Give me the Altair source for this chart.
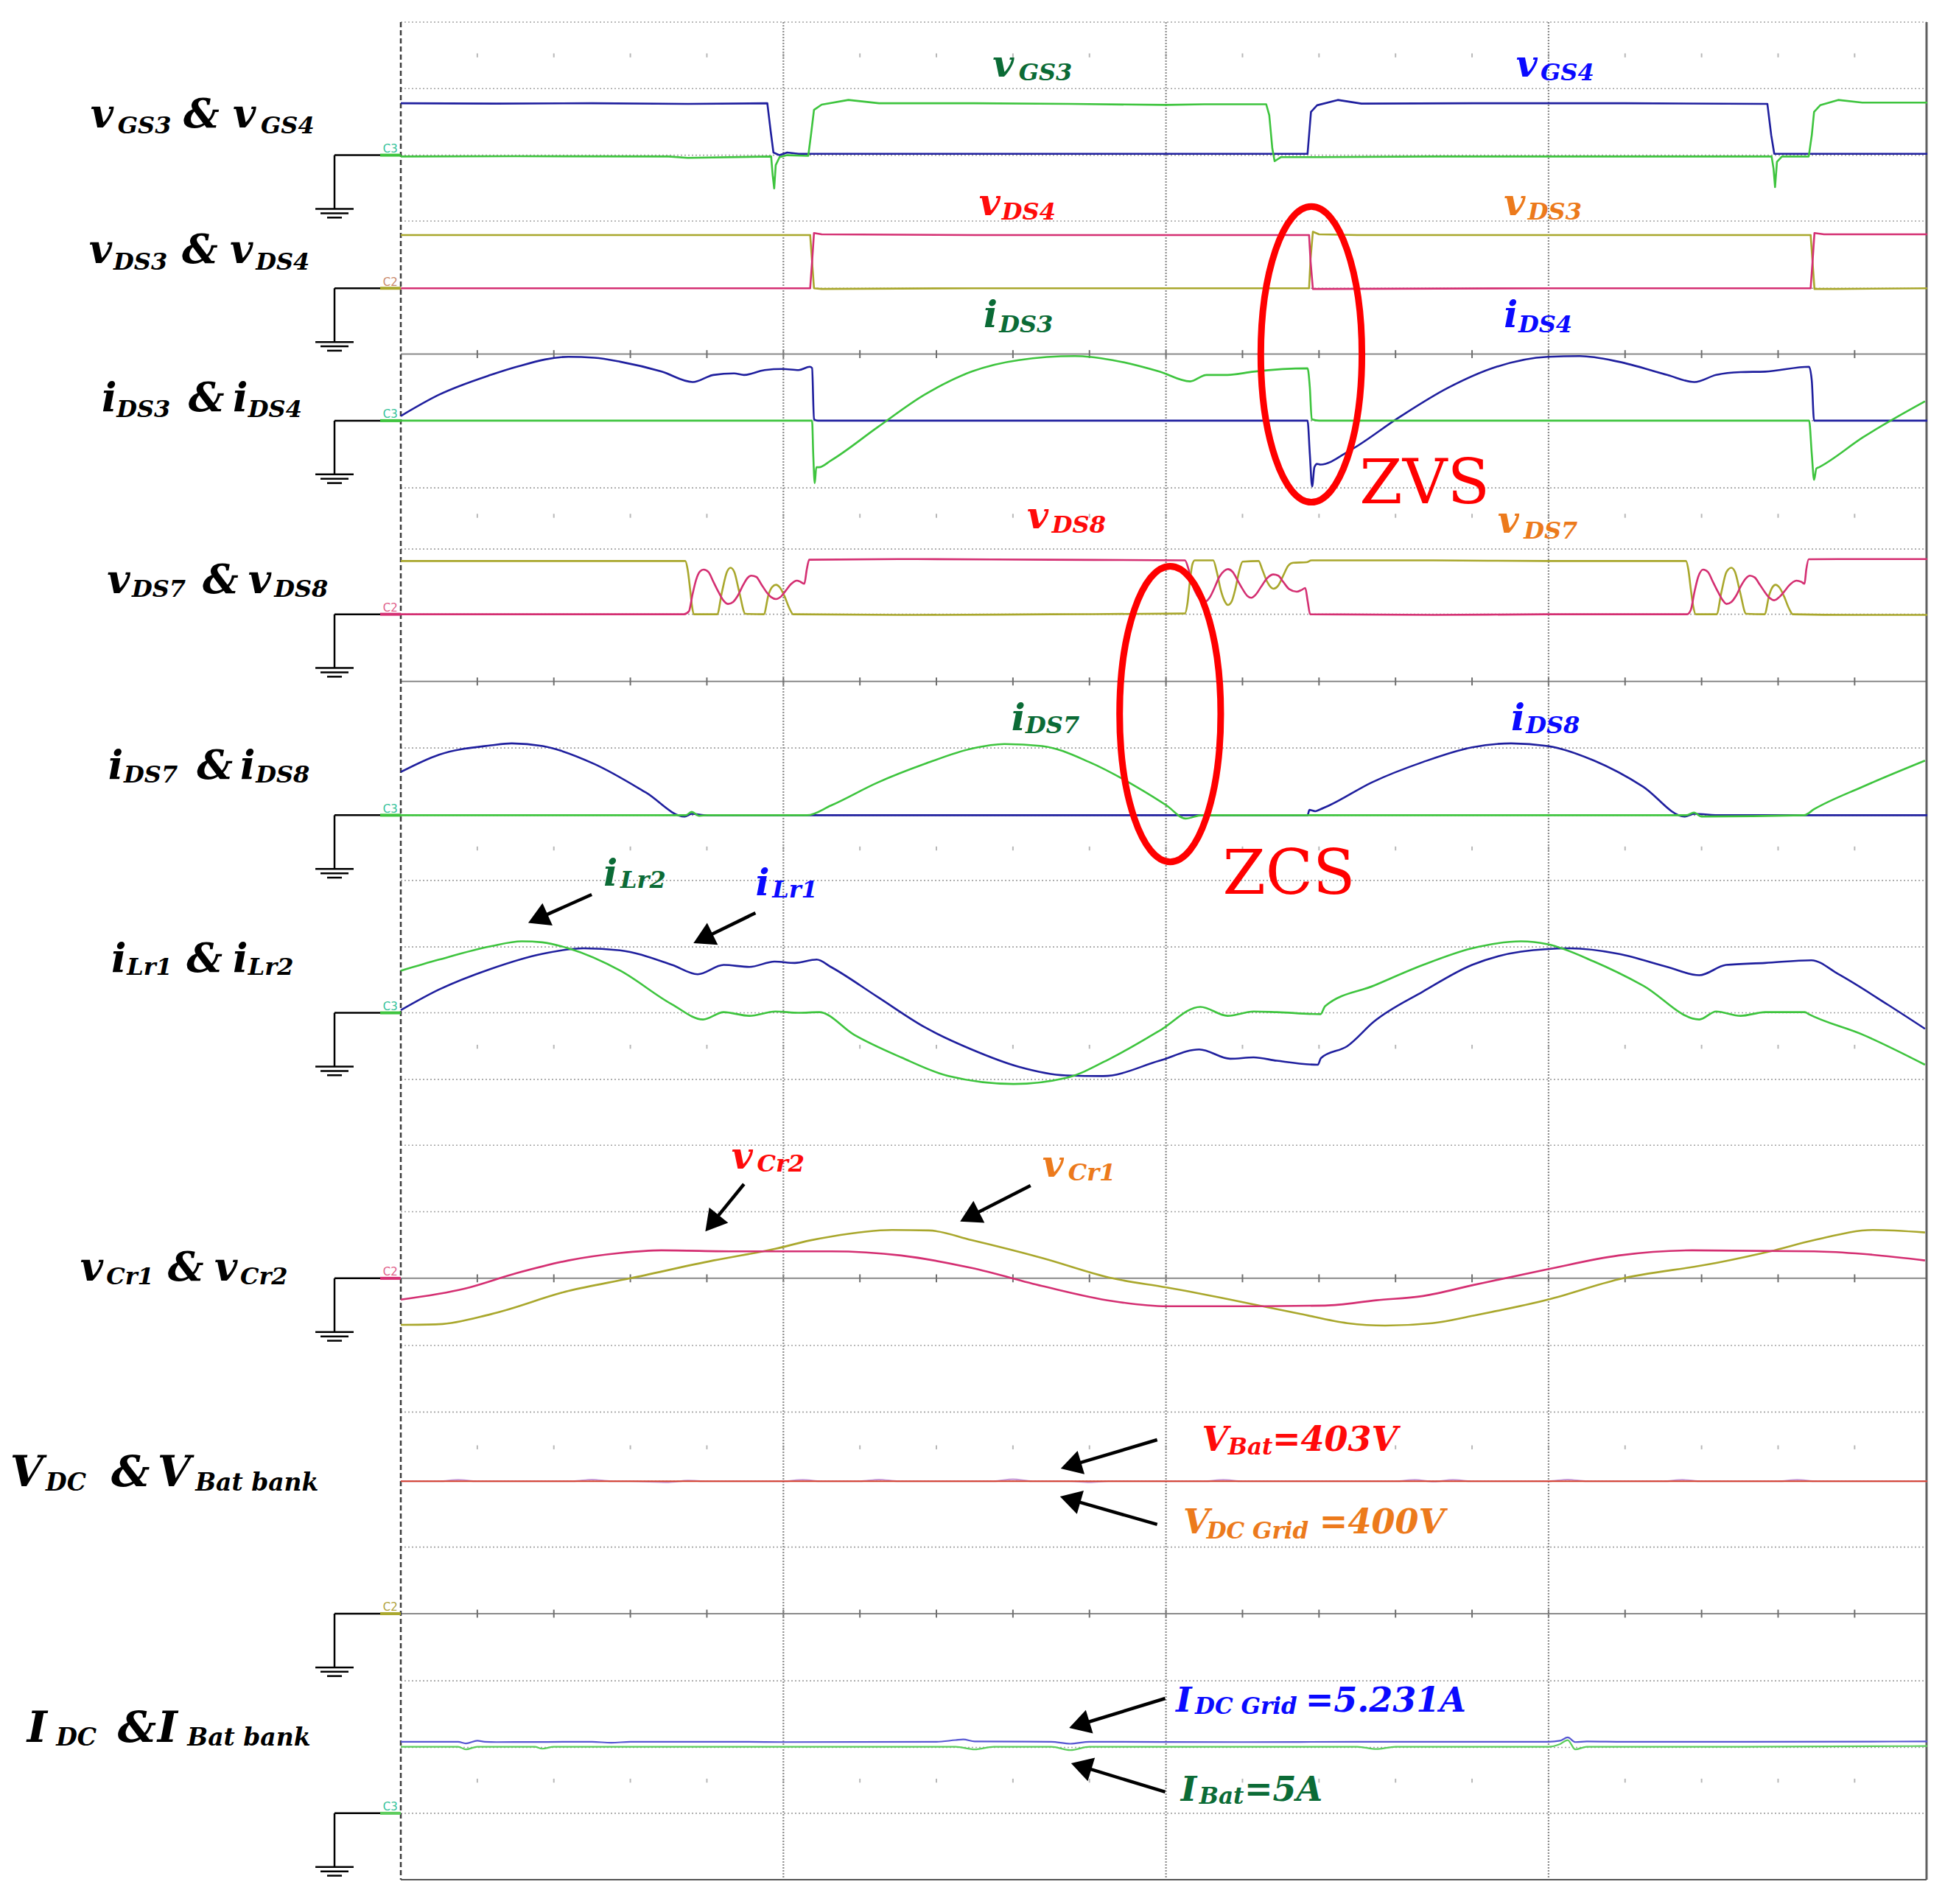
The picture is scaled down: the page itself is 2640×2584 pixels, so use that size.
import math
import altair as alt
import pandas as pd

# ---------------- screen frame, in oscilloscope divisions ----------------
T_RANGE = [-1.0322, 4.0131]     # horizontal divisions (channel names sit at negative t)
D_RANGE = [-0.2436, 28.173]     # vertical divisions, counted downward from the top graticule line
T_END = 3.988
D_BOTTOM = 27.918
W, H = 2620, 2566

GRID_DOTTED = [0.0, 1.0, 2.0, 2.99, 4.0, 5.99, 7.0, 7.92, 8.9, 10.91, 11.92, 12.9, 13.9, 14.89,
               15.89, 16.88, 17.88, 19.89, 20.89, 21.93, 22.92, 24.93, 25.93, 26.92]
GRID_SOLID = [4.99, 9.91, 18.88, 23.92]
GRID_MARK_ROWS = [0.5, 7.42, 12.42, 15.40, 21.42, 26.43]
GRID_VERTICAL = [1.0, 2.0, 3.0]

CHANNEL_GROUNDS = [2.0, 4.0, 5.99, 8.9, 11.92, 14.89, 18.88, 23.92, 26.92]
CHANNEL_TAGS = ["C3", "C2", "C3", "C2", "C3", "C3", "C2", "C2", "C3"]
CHANNEL_TAG_KEYS = ["tag_g", "tag_s", "tag_g", "tag_p", "tag_g", "tag_g", "tag_p", "tag_o", "tag_g"]
CHANNEL_STUB_KEYS = ["vGS3", "vDS3", "iDS3", "vDS8", "iDS7", "iLr2", "vCr2", "vCr1", "IBat"]

# ---------------- traces: time (div) and level above channel ground (div) ----------------
VGS4_T = [0, 0.25, 0.5, 0.75, 0.958, 0.967, 0.974, 0.99, 1.01, 1.04, 1.5, 2.0, 2.3, 2.37, 2.379, 2.395,
          2.449, 2.511, 2.8, 3.2, 3.572, 3.582, 3.59, 3.99]
VGS4_V = [0.78, 0.775, 0.78, 0.77, 0.78, 0.35, 0.04, 0.0, 0.04, 0.02, 0.02, 0.02, 0.02, 0.02, 0.65, 0.75,
          0.83, 0.775, 0.78, 0.78, 0.77, 0.3, 0.02, 0.02]
VGS3_T = [0, 0.3, 0.7, 0.75, 0.968, 0.972, 0.976, 0.98, 0.99, 1.01, 1.065, 1.072, 1.08, 1.10, 1.17, 1.25,
          1.5, 1.75, 2.0, 2.1, 2.262, 2.27, 2.278, 2.284, 2.30, 2.4, 2.7, 3.0, 3.3, 3.583, 3.588, 3.592,
          3.597, 3.61, 3.68, 3.688, 3.694, 3.71, 3.757, 3.82, 3.99]
VGS3_V = [-0.02, -0.015, -0.02, -0.04, -0.02, -0.3, -0.5, -0.15, -0.03, 0.0, -0.01, 0.3, 0.68, 0.76, 0.83,
          0.78, 0.78, 0.77, 0.755, 0.765, 0.765, 0.6, 0.1, -0.09, -0.03, -0.03, -0.02, -0.02, -0.02, -0.02,
          -0.2, -0.48, -0.1, -0.02, -0.02, 0.3, 0.65, 0.75, 0.83, 0.79, 0.79]

VDS3_T = [0, 0.5, 1.07, 1.075, 1.08, 1.1, 1.5, 2.0, 2.374, 2.378, 2.384, 2.4, 2.5, 3.0, 3.685, 3.69, 3.695, 3.75, 3.99]
VDS3_V = [0.80, 0.80, 0.80, 0.4, 0.0, -0.01, 0.0, 0.0, 0.0, 0.45, 0.85, 0.81, 0.80, 0.80, 0.80, 0.4, -0.01, -0.01, 0.0]
VDS4_T = [0, 0.5, 1.07, 1.075, 1.08, 1.1, 1.5, 2.0, 2.374, 2.378, 2.384, 2.4, 3.0, 3.685, 3.69, 3.695, 3.72, 3.99]
VDS4_V = [0.0, 0.0, 0.0, 0.4, 0.83, 0.81, 0.80, 0.80, 0.80, 0.4, -0.01, -0.01, 0.0, 0.0, 0.4, 0.83, 0.81, 0.81]

IDS4_T = [0, 0.1, 0.235, 0.303, 0.438, 0.506, 0.573, 0.682, 0.763, 0.817, 0.871, 0.897, 0.951, 0.998, 1.04,
          1.069, 1.075, 1.08, 1.09, 1.5, 2.0, 2.37, 2.376, 2.382, 2.388, 2.395, 2.404, 2.48, 2.608, 2.736,
          2.864, 2.998, 3.082, 3.183, 3.31, 3.381, 3.438, 3.502, 3.566, 3.681, 3.688, 3.694, 3.99]
IDS4_V = [0.07, 0.39, 0.687, 0.81, 0.96, 0.945, 0.886, 0.737, 0.58, 0.687, 0.71, 0.687, 0.76, 0.776, 0.76,
          0.81, 0.79, 0.02, 0.0, 0.0, 0.0, 0.0, -0.5, -0.99, -0.7, -0.65, -0.66, -0.45, 0.045, 0.49,
          0.81, 0.96, 0.97, 0.886, 0.687, 0.58, 0.687, 0.73, 0.737, 0.81, 0.6, 0.0, 0.0]
IDS3_T = [0, 0.5, 1.0, 1.075, 1.078, 1.082, 1.086, 1.093, 1.124, 1.246, 1.369, 1.492, 1.615, 1.762, 1.86,
          1.983, 2.063, 2.106, 2.161, 2.229, 2.37, 2.376, 2.381, 2.4, 3.0, 3.681, 3.688, 3.694, 3.7, 3.707,
          3.822, 3.984]
IDS3_V = [0.0, 0.0, 0.0, 0.0, -0.5, -0.94, -0.7, -0.70, -0.6, -0.1, 0.39, 0.737, 0.91, 0.97, 0.91,
          0.737, 0.59, 0.687, 0.687, 0.737, 0.786, 0.5, 0.02, 0.0, 0.0, 0.0, -0.5, -0.89, -0.72, -0.70,
          -0.25, 0.29]

VDS7_T = [0, 0.4, 0.7434, 0.7498, 0.7562, 0.7613, 0.7658, 0.8267, 0.8396, 0.8524, 0.862, 0.8717, 0.8845,
          0.9006, 0.9487, 0.9615, 0.9712, 0.9808, 0.9904, 1.0033, 1.0161, 1.0257, 1.3, 1.7, 2.0495, 2.056,
          2.0624, 2.0688, 2.0752, 2.1234, 2.133, 2.1427, 2.1523, 2.1619, 2.1716, 2.1812, 2.1908, 2.2004,
          2.2421, 2.2517, 2.2646, 2.2806, 2.2935, 2.3064, 2.3192, 2.3321, 2.3673, 2.3801, 2.7, 3.0, 3.359,
          3.3654, 3.3718, 3.3782, 3.3847, 3.4392, 3.452, 3.4649, 3.4778, 3.4874, 3.5003, 3.5164, 3.5645,
          3.5773, 3.587, 3.5934, 3.603, 3.6158, 3.6286, 3.6383, 3.8, 3.99]
VDS7_V = [0.80, 0.80, 0.80, 0.672, 0.377, 0.118, 0.0, 0.0, 0.34, 0.635, 0.70, 0.635, 0.34, 0.007, 0.0,
          0.302, 0.413, 0.443, 0.406, 0.266, 0.085, 0.0, -0.01, 0.0, 0.011, 0.155, 0.487, 0.745, 0.81,
          0.81, 0.635, 0.377, 0.211, 0.14, 0.192, 0.377, 0.635, 0.79, 0.80, 0.672, 0.487, 0.384, 0.432,
          0.58, 0.727, 0.775, 0.782, 0.81, 0.81, 0.80, 0.80, 0.672, 0.377, 0.118, 0.0, 0.0, 0.34, 0.635,
          0.70, 0.635, 0.34, 0.007, 0.0, 0.302, 0.421, 0.443, 0.406, 0.266, 0.085, 0.0, -0.01, -0.01]
VDS8_T = [0, 0.4, 0.740, 0.753, 0.7626, 0.7722, 0.7818, 0.7915, 0.8043, 0.8171, 0.8299, 0.8428, 0.8556,
          0.8685, 0.8813, 0.8941, 0.907, 0.9166, 0.9294, 0.9423, 0.9551, 0.968, 0.9808, 0.9937, 1.0065,
          1.0193, 1.0354, 1.045, 1.0547, 1.0611, 1.0675, 1.3, 1.7, 2.0495, 2.0592, 2.0688, 2.0816, 2.0913,
          2.1009, 2.1138, 2.1266, 2.1394, 2.1523, 2.1619, 2.1747, 2.1876, 2.2004, 2.2132, 2.2229, 2.2357,
          2.2486, 2.2646, 2.2806, 2.2935, 2.3064, 2.3224, 2.3416, 2.3545, 2.3641, 2.3705, 2.3769, 2.7, 3.0,
          3.3622, 3.3718, 3.3815, 3.3911, 3.404, 3.4167, 3.4296, 3.4425, 3.4553, 3.465, 3.4778, 3.4907,
          3.5035, 3.5164, 3.526, 3.5388, 3.5516, 3.5645, 3.5773, 3.59, 3.603, 3.6158, 3.6286, 3.6479,
          3.6607, 3.669, 3.6736, 3.68, 3.8, 3.99]
VDS8_V = [0.0, 0.0, 0.0, 0.044, 0.302, 0.524, 0.642, 0.672, 0.635, 0.487, 0.34, 0.211, 0.155, 0.185,
          0.284, 0.432, 0.55, 0.58, 0.561, 0.45, 0.34, 0.258, 0.229, 0.266, 0.358, 0.45, 0.506, 0.487,
          0.458, 0.672, 0.82, 0.83, 0.82, 0.81, 0.672, 0.45, 0.284, 0.211, 0.185, 0.248, 0.395, 0.561,
          0.653, 0.679, 0.635, 0.506, 0.377, 0.273, 0.248, 0.302, 0.413, 0.543, 0.598, 0.58, 0.487, 0.377,
          0.34, 0.366, 0.395, 0.192, 0.0, -0.01, 0.0, 0.0, 0.066, 0.34, 0.561, 0.672, 0.635, 0.487, 0.34,
          0.211, 0.155, 0.185, 0.284, 0.432, 0.543, 0.58, 0.554, 0.45, 0.34, 0.248, 0.211, 0.258, 0.34,
          0.432, 0.506, 0.487, 0.458, 0.672, 0.827, 0.83, 0.83]

IDS8_T = [0, 0.1, 0.236, 0.29, 0.371, 0.506, 0.641, 0.742, 0.76, 0.8, 1.5, 2.0, 2.37, 2.375, 2.39, 2.404,
          2.426, 2.537, 2.672, 2.8, 2.902, 2.998, 3.119, 3.247, 3.356, 3.38, 3.45, 3.99]
IDS8_V = [0.65, 0.91, 1.05, 1.08, 1.04, 0.77, 0.34, -0.02, 0.02, 0.0, 0.0, 0.0, 0.0, 0.08, 0.06, 0.09,
          0.145, 0.49, 0.80, 1.02, 1.08, 1.04, 0.82, 0.43, -0.02, 0.02, 0.0, 0.0]
IDS7_T = [0, 0.745, 0.76, 0.78, 0.8, 1.062, 1.124, 1.246, 1.369, 1.492, 1.578, 1.676, 1.799, 1.922, 2.002,
          2.051, 2.094, 2.5, 3.0, 3.36, 3.38, 3.4, 3.668, 3.694, 3.822, 3.984]
IDS7_V = [0.0, 0.0, 0.05, -0.01, 0.0, 0.0, 0.145, 0.49, 0.77, 1.0, 1.07, 1.04, 0.80, 0.43, 0.145,
          -0.05, 0.0, 0.0, 0.0, 0.0, 0.04, -0.02, 0.0, 0.09, 0.43, 0.82]

ILR1_T = [0, 0.1, 0.235, 0.37, 0.478, 0.573, 0.709, 0.776, 0.844, 0.911, 0.977, 1.03, 1.087, 1.124, 1.246,
          1.369, 1.492, 1.615, 1.738, 1.836, 1.983, 2.087, 2.168, 2.229, 2.29, 2.397, 2.405, 2.474, 2.544,
          2.672, 2.8, 2.928, 3.055, 3.183, 3.31, 3.394, 3.464, 3.566, 3.687, 3.758, 3.886, 3.984]
ILR1_V = [0.04, 0.35, 0.66, 0.887, 0.97, 0.94, 0.72, 0.58, 0.72, 0.69, 0.77, 0.75, 0.80, 0.69, 0.24,
          -0.215, -0.55, -0.81, -0.94, -0.95, -0.72, -0.55, -0.69, -0.67, -0.72, -0.78, -0.68, -0.50, -0.13,
          0.32, 0.72, 0.92, 0.97, 0.887, 0.69, 0.565, 0.72, 0.75, 0.79, 0.58, 0.125, -0.24]
ILR2_T = [0, 0.1, 0.235, 0.316, 0.37, 0.438, 0.574, 0.709, 0.79, 0.844, 0.911, 0.979, 1.04, 1.093, 1.185,
          1.308, 1.431, 1.602, 1.738, 1.86, 1.983, 2.09, 2.161, 2.229, 2.29, 2.404, 2.416, 2.544, 2.672,
          2.8, 2.928, 2.998, 3.119, 3.247, 3.394, 3.438, 3.502, 3.566, 3.67, 3.68, 3.822, 3.984]
ILR2_V = [0.633, 0.80, 1.0, 1.074, 1.06, 0.97, 0.633, 0.127, -0.10, 0.01, -0.045, 0.02, 0.0, 0.01, -0.33,
          -0.67, -0.95, -1.07, -0.98, -0.67, -0.27, 0.09, -0.045, 0.02, 0.01, -0.02, 0.10, 0.41, 0.72,
          0.97, 1.074, 1.03, 0.77, 0.41, -0.10, 0.02, -0.045, 0.01, 0.01, -0.02, -0.33, -0.78]

VCR2_T = [0, 0.168, 0.303, 0.438, 0.573, 0.681, 0.878, 1.124, 1.308, 1.492, 1.676, 1.86, 2.002, 2.229,
          2.416, 2.55, 2.672, 2.804, 2.998, 3.183, 3.375, 3.694, 3.822, 3.984]
VCR2_V = [-0.32, -0.154, 0.078, 0.268, 0.38, 0.42, 0.405, 0.405, 0.343, 0.155, -0.115, -0.343, -0.42,
          -0.42, -0.41, -0.33, -0.266, -0.1, 0.137, 0.343, 0.42, 0.405, 0.366, 0.268]
VCR1_T = [0, 0.1, 0.235, 0.438, 0.6, 0.817, 0.979, 1.07, 1.124, 1.284, 1.38, 1.492, 1.676, 1.86, 2.002,
          2.168, 2.352, 2.474, 2.573, 2.696, 2.804, 2.998, 3.183, 3.438, 3.579, 3.694, 3.848, 3.984]
VCR1_V = [-0.70, -0.69, -0.54, -0.19, 0.0, 0.268, 0.443, 0.57, 0.627, 0.726, 0.72, 0.574, 0.306, 0.0,
          -0.138, -0.32, -0.536, -0.674, -0.71, -0.674, -0.56, -0.32, -0.015, 0.23, 0.405, 0.574, 0.726, 0.689]

VBAT_T = [0, 0.1, 0.15, 0.2, 0.45, 0.5, 0.55, 0.6, 0.7, 0.75, 0.8, 1.0, 1.05, 1.1, 1.2, 1.25, 1.3, 1.55,
          1.6, 1.65, 1.75, 1.8, 1.85, 2.1, 2.15, 2.2, 2.6, 2.65, 2.7, 2.75, 2.8, 3.0, 3.05, 3.1, 3.3, 3.35,
          3.4, 3.6, 3.65, 3.7, 3.99]
VBAT_V = [1.99, 1.99, 2.01, 1.99, 1.99, 2.015, 1.99, 1.99, 1.975, 2.0, 1.99, 1.99, 2.01, 1.99, 1.99,
          2.015, 1.99, 1.99, 2.02, 1.99, 1.99, 1.975, 1.99, 1.99, 2.01, 1.99, 1.99, 2.01, 1.985, 2.01,
          1.99, 1.99, 2.015, 1.99, 1.99, 2.01, 1.99, 1.99, 2.01, 1.99, 1.99]
VDC_T = [0, 3.99]
VDC_V = [1.99, 1.99]
IDC_T = [0, 0.15, 0.17, 0.2, 0.22, 0.25, 0.5, 0.55, 0.6, 0.9, 1.0, 1.4, 1.45, 1.47, 1.5, 1.7, 1.75, 1.8,
         2.2, 2.5, 3.0, 3.03, 3.05, 3.07, 3.1, 3.2, 3.5, 3.99]
IDC_V = [1.074, 1.074, 1.05, 1.09, 1.074, 1.07, 1.074, 1.06, 1.074, 1.074, 1.07, 1.074, 1.1, 1.11, 1.08,
         1.074, 1.045, 1.074, 1.07, 1.074, 1.074, 1.09, 1.14, 1.07, 1.08, 1.074, 1.074, 1.08]
IBAT_T = [0, 0.15, 0.17, 0.2, 0.35, 0.37, 0.4, 0.8, 1.0, 1.45, 1.5, 1.55, 1.7, 1.75, 1.8, 2.2, 2.5, 2.55,
          2.6, 3.0, 3.03, 3.05, 3.07, 3.1, 3.5, 3.99]
IBAT_V = [1.0, 1.0, 0.96, 1.0, 1.0, 0.97, 1.0, 1.0, 1.0, 1.0, 0.96, 1.0, 1.0, 0.95, 1.0, 1.0, 1.0, 0.965,
          1.0, 1.0, 1.04, 1.1, 0.96, 1.0, 1.0, 1.01]

SWITCH_TRACES = [
    ("vGS4", 0, VGS4_T, VGS4_V), ("vGS3", 0, VGS3_T, VGS3_V),
    ("vDS3", 1, VDS3_T, VDS3_V), ("vDS4", 1, VDS4_T, VDS4_V),
]
SMOOTH_TRACES = [
    ("iDS4", 2, IDS4_T, IDS4_V), ("iDS3", 2, IDS3_T, IDS3_V),
    ("vDS7", 3, VDS7_T, VDS7_V), ("vDS8", 3, VDS8_T, VDS8_V),
    ("iDS8", 4, IDS8_T, IDS8_V), ("iDS7", 4, IDS7_T, IDS7_V),
    ("iLr1", 5, ILR1_T, ILR1_V), ("iLr2", 5, ILR2_T, ILR2_V),
    ("vCr1", 6, VCR1_T, VCR1_V), ("vCr2", 6, VCR2_T, VCR2_V),
]
DC_TRACES = [
    ("VBat", 7, VBAT_T, VBAT_V), ("VDC", 7, VDC_T, VDC_V),
    ("IBat", 8, IBAT_T, IBAT_V), ("IDC", 8, IDC_T, IDC_V),
]

# ---------------- annotations ----------------
LABEL_PIECES = [
    ("v", -0.811, 1.584, "lmain", "ink"), ("GS3", -0.740, 1.672, "lsub", "ink"), ("&", -0.568, 1.584, "lmain", "ink"),
    ("v", -0.439, 1.584, "lmain", "ink"), ("GS4", -0.366, 1.672, "lsub", "ink"),
    ("v", -0.815, 3.621, "lmain", "ink"), ("DS3", -0.751, 3.721, "lsub", "ink"), ("&", -0.572, 3.621, "lmain", "ink"),
    ("v", -0.447, 3.621, "lmain", "ink"), ("DS4", -0.379, 3.721, "lsub", "ink"),
    ("i", -0.782, 5.847, "lmain", "ink"), ("DS3", -0.743, 5.936, "lsub", "ink"), ("&", -0.555, 5.847, "lmain", "ink"),
    ("i", -0.439, 5.847, "lmain", "ink"), ("DS4", -0.399, 5.936, "lsub", "ink"),
    ("v", -0.768, 8.583, "lmain", "ink"), ("DS7", -0.703, 8.638, "lsub", "ink"), ("&", -0.518, 8.583, "lmain", "ink"),
    ("v", -0.399, 8.583, "lmain", "ink"), ("DS8", -0.331, 8.638, "lsub", "ink"),
    ("i", -0.765, 11.373, "lmain", "ink"), ("DS7", -0.724, 11.429, "lsub", "ink"), ("&", -0.533, 11.373, "lmain", "ink"),
    ("i", -0.420, 11.373, "lmain", "ink"), ("DS8", -0.379, 11.429, "lsub", "ink"),
    ("i", -0.757, 14.275, "lmain", "ink"), ("Lr1", -0.716, 14.319, "lsub", "ink"), ("&", -0.560, 14.275, "lmain", "ink"),
    ("i", -0.439, 14.275, "lmain", "ink"), ("Lr2", -0.399, 14.319, "lsub", "ink"),
    ("v", -0.838, 18.92, "lmain", "ink"), ("Cr1", -0.770, 18.97, "lsub", "ink"), ("&", -0.609, 18.92, "lmain", "ink"),
    ("v", -0.487, 18.92, "lmain", "ink"), ("Cr2", -0.420, 18.97, "lsub", "ink"),
    ("V", -1.021, 22.004, "xmain", "ink"), ("DC", -0.928, 22.071, "xsub", "ink"), ("&", -0.757, 22.004, "xmain", "ink"),
    ("V", -0.636, 22.004, "xmain", "ink"), ("Bat bank", -0.537, 22.071, "xsub", "ink"),
    ("I", -0.977, 25.847, "xmain", "ink"), ("DC", -0.901, 25.903, "xsub", "ink"), ("&", -0.740, 25.847, "xmain", "ink"),
    ("I", -0.636, 25.847, "xmain", "ink"), ("Bat bank", -0.558, 25.903, "xsub", "ink"),
    # in-plot trace names
    ("v", 1.547, 0.815, "pmain", "lab_g"), ("GS3", 1.615, 0.875, "psub", "lab_g"),
    ("v", 2.915, 0.815, "pmain", "lab_b"), ("GS4", 2.979, 0.875, "psub", "lab_b"),
    ("v", 1.511, 2.901, "pmain", "lab_r"), ("DS4", 1.571, 2.968, "psub", "lab_r"),
    ("v", 2.883, 2.901, "pmain", "lab_o"), ("DS3", 2.946, 2.968, "psub", "lab_o"),
    ("i", 1.523, 4.585, "pmain", "lab_g"), ("DS3", 1.564, 4.662, "psub", "lab_g"),
    ("i", 2.883, 4.585, "pmain", "lab_b"), ("DS4", 2.921, 4.662, "psub", "lab_b"),
    ("v", 1.637, 7.61, "pmain", "lab_r"), ("DS8", 1.702, 7.68, "psub", "lab_r"),
    ("v", 2.867, 7.68, "pmain", "lab_o"), ("DS7", 2.935, 7.76, "psub", "lab_o"),
    ("i", 1.596, 10.642, "pmain", "lab_g"), ("DS7", 1.633, 10.687, "psub", "lab_g"),
    ("i", 2.902, 10.642, "pmain", "lab_b"), ("DS8", 2.941, 10.687, "psub", "lab_b"),
    ("i", 0.530, 12.984, "pmain", "lab_g"), ("Lr2", 0.574, 13.012, "psub", "lab_g"),
    ("i", 0.927, 13.123, "pmain", "lab_b"), ("Lr1", 0.971, 13.156, "psub", "lab_b"),
    ("v", 0.864, 17.231, "pmain", "lab_r"), ("Cr2", 0.931, 17.276, "psub", "lab_r"),
    ("v", 1.677, 17.353, "pmain", "lab_o"), ("Cr1", 1.744, 17.409, "psub", "lab_o"),
    ("V", 2.094, 21.469, "vmain", "lab_r"), ("Bat", 2.162, 21.523, "vsub", "lab_r"), ("=403V", 2.278, 21.469, "vmain", "lab_r"),
    ("V", 2.045, 22.71, "vmain", "lab_o"), ("DC Grid", 2.106, 22.786, "vsub", "lab_o"), ("=400V", 2.401, 22.71, "vmain", "lab_o"),
    ("I", 2.026, 25.389, "vmain", "lab_b"), ("DC Grid", 2.076, 25.426, "vsub", "lab_b"), ("=5.231A", 2.364, 25.389, "vmain", "lab_b"),
    ("I", 2.039, 26.729, "vmain", "lab_g"), ("Bat", 2.087, 26.783, "vsub", "lab_g"), ("=5A", 2.205, 26.729, "vmain", "lab_g"),
]
ROLE_DOMAIN = ["lmain", "lsub", "xmain", "xsub", "pmain", "psub", "vmain", "vsub"]
ROLE_SIZES = [54, 32, 58, 33, 50, 32, 46, 31]

SOFT_SWITCH_TEXT = ["ZVS", "ZCS"]
SOFT_SWITCH_T = [2.506, 2.148]
SOFT_SWITCH_D = [7.231, 13.099]
ELLIPSE_T = [2.380, 2.011]
ELLIPSE_D = [4.994, 10.399]

ARROW_FROM_T = [0.499, 0.927, 0.897, 1.646, 1.977, 1.977, 1.998, 1.998]
ARROW_FROM_D = [13.112, 13.389, 17.464, 17.486, 21.307, 22.58, 25.194, 26.6]
ARROW_TO_T = [0.333, 0.765, 0.796, 1.462, 1.725, 1.723, 1.747, 1.752]
ARROW_TO_D = [13.539, 13.843, 18.177, 18.025, 21.739, 22.159, 25.637, 26.168]

PALETTE = {
    "vGS3": "#3ec43e", "vGS4": "#1f1f9e", "vDS3": "#a9a72c", "vDS4": "#d42f72",
    "iDS3": "#3ec43e", "iDS4": "#1f1f9e", "vDS7": "#a9a72c", "vDS8": "#d42f72",
    "iDS7": "#3ec43e", "iDS8": "#1f1f9e", "iLr1": "#1f1f9e", "iLr2": "#3ec43e",
    "vCr1": "#a9a72c", "vCr2": "#d42f72",
    "VBat": "#c79ad6", "VDC": "#d5402c", "IDC": "#5656d2", "IBat": "#5ccc5c",
    "ink": "#000000", "lab_g": "#0b6b36", "lab_b": "#0a0aff", "lab_r": "#ff0a0a", "lab_o": "#ec7a1c",
    "tag_g": "#35c29a", "tag_p": "#e0608a", "tag_o": "#b0a23c", "tag_s": "#c98a6c",
}

# ---------------- scales / helpers ----------------
XS = alt.Scale(domain=T_RANGE, nice=False, zero=False)
YS = alt.Scale(domain=D_RANGE, nice=False, zero=False, reverse=True)
CS = alt.Scale(domain=list(PALETTE.keys()), range=list(PALETTE.values()))
PXT = W / (T_RANGE[1] - T_RANGE[0])
PXD = H / (D_RANGE[1] - D_RANGE[0])


def X(f):
    return alt.X(f"{f}:Q", scale=XS, axis=None)


def Y(f):
    return alt.Y(f"{f}:Q", scale=YS, axis=None)


def COL(f):
    return alt.Color(f"{f}:N", scale=CS, legend=None)


def seg_layer(segs, **kw):
    df = pd.DataFrame(segs, columns=["t", "t2", "d", "d2"])
    return alt.Chart(df).mark_rule(**kw).encode(x=X("t"), x2=alt.X2("t2"), y=Y("d"), y2=alt.Y2("d2"))


layers = []

# graticule
layers.append(seg_layer([(0.0, T_END, d, d) for d in GRID_DOTTED], color="#a3a3a3", strokeWidth=1.6, strokeDash=[2, 3]))
layers.append(seg_layer([(0.0, T_END, d, d) for d in GRID_SOLID], color="#8a8a8a", strokeWidth=2))
ticks = [(0.2 * k, 0.2 * k, d - 0.06, d + 0.06) for d in GRID_SOLID for k in range(1, 20)]
layers.append(seg_layer(ticks, color="#6f6f6f", strokeWidth=2))
marks = [(0.2 * k, 0.2 * k, d - 0.03, d + 0.03) for d in GRID_MARK_ROWS for k in range(1, 20)]
layers.append(seg_layer(marks, color="#b8b8b8", strokeWidth=2))
layers.append(seg_layer([(t, t, 0.0, D_BOTTOM) for t in GRID_VERTICAL], color="#8c8c8c", strokeWidth=2.2, strokeDash=[2, 2]))
layers.append(seg_layer([(0.0, 0.0, 0.0, D_BOTTOM)], color="#3c3c3c", strokeWidth=2.5, strokeDash=[7, 4]))
layers.append(seg_layer([(T_END, T_END, 0.0, D_BOTTOM)], color="#606060", strokeWidth=3))
layers.append(seg_layer([(0.0, T_END, D_BOTTOM, D_BOTTOM)], color="#555555", strokeWidth=2))

# ground symbols
GX = -0.1733
gsegs = []
for g in CHANNEL_GROUNDS:
    gsegs += [(GX, -0.0539, g, g), (GX, GX, g, g + 0.808),
              (GX - 0.050, GX + 0.050, g + 0.808, g + 0.808),
              (GX - 0.0366, GX + 0.0366, g + 0.873, g + 0.873),
              (GX - 0.0193, GX + 0.0193, g + 0.938, g + 0.938)]
layers.append(seg_layer(gsegs, color="#000000", strokeWidth=2.5))

stub_df = pd.DataFrame({"t": -0.0539, "t2": 0.0, "d": CHANNEL_GROUNDS, "d2": CHANNEL_GROUNDS, "ck": CHANNEL_STUB_KEYS})
layers.append(alt.Chart(stub_df).mark_rule(strokeWidth=4).encode(
    x=X("t"), x2=alt.X2("t2"), y=Y("d"), y2=alt.Y2("d2"), color=COL("ck")))
tag_df = pd.DataFrame({"t": -0.008, "d": [g - 0.04 for g in CHANNEL_GROUNDS], "txt": CHANNEL_TAGS, "ck": CHANNEL_TAG_KEYS})
layers.append(alt.Chart(tag_df).mark_text(align="right", baseline="alphabetic", font="DejaVu Sans", fontSize=15).encode(
    x=X("t"), y=Y("d"), text="txt:N", color=COL("ck")))


# traces
def trace_df(traces):
    rows = []
    for name, ch, T, V in traces:
        assert len(T) == len(V), name
        g = CHANNEL_GROUNDS[ch]
        for t, v in zip(T, V):
            rows.append({"series": name, "t": t, "d": g - v})
    return pd.DataFrame(rows)


layers.append(alt.Chart(trace_df(SWITCH_TRACES)).mark_line(strokeWidth=2.6, strokeJoin="round").encode(
    x=X("t"), y=Y("d"), color=COL("series"), detail="series:N"))
layers.append(alt.Chart(trace_df(SMOOTH_TRACES)).mark_line(strokeWidth=2.6, strokeJoin="round",
                                                          interpolate="monotone").encode(
    x=X("t"), y=Y("d"), color=COL("series"), detail="series:N"))
layers.append(alt.Chart(trace_df(DC_TRACES)).mark_line(strokeWidth=2.2, strokeJoin="round",
                                                      interpolate="monotone").encode(
    x=X("t"), y=Y("d"), color=COL("series"), detail="series:N"))

# red ellipses
ELLIPSE_SHAPE = "M0,-1 A0.342,1 0 1,1 0,1 A0.342,1 0 1,1 0,-1 Z"
ell_df = pd.DataFrame({"t": ELLIPSE_T, "d": ELLIPSE_D})
layers.append(alt.Chart(ell_df).mark_point(shape=ELLIPSE_SHAPE, filled=False, color="#ff0000", strokeWidth=9,
                                           size=161000, opacity=1).encode(x=X("t"), y=Y("d")))

# arrows
HEAD_SIZE = 1100
r = math.sqrt(HEAD_SIZE) / 2
hh = math.sqrt(3) * r / 2
shafts, heads = [], []
for ft, fd, tt, td in zip(ARROW_FROM_T, ARROW_FROM_D, ARROW_TO_T, ARROW_TO_D):
    dx, dy = (tt - ft) * PXT, (td - fd) * PXD
    L = math.hypot(dx, dy)
    ux, uy = dx / L, dy / L
    shafts.append((ft, tt - 1.6 * hh * ux / PXT, fd, td - 1.6 * hh * uy / PXD))
    heads.append({"t": tt - hh * ux / PXT, "d": td - hh * uy / PXD,
                  "angle": math.degrees(math.atan2(dx, -dy)) % 360})
layers.append(seg_layer(shafts, color="#000000", strokeWidth=4.5))
layers.append(alt.Chart(pd.DataFrame(heads)).mark_point(shape="triangle-up", filled=True, color="#000000",
                                                        size=HEAD_SIZE, opacity=1).encode(
    x=X("t"), y=Y("d"), angle=alt.Angle("angle:Q", scale=None)))

# texts: one layer per text role, each with its own font size
lab_df = pd.DataFrame(LABEL_PIECES, columns=["txt", "t", "d", "role", "ck"])
for role, fsize in zip(ROLE_DOMAIN, ROLE_SIZES):
    sub = lab_df[lab_df["role"] == role]
    layers.append(alt.Chart(sub).mark_text(align="left", baseline="alphabetic", font="DejaVu Serif",
                                           fontStyle="italic", fontWeight="bold", fontSize=fsize).encode(
        x=X("t"), y=Y("d"), text="txt:N", color=COL("ck")))
zz_df = pd.DataFrame({"txt": SOFT_SWITCH_TEXT, "t": SOFT_SWITCH_T, "d": SOFT_SWITCH_D})
layers.append(alt.Chart(zz_df).mark_text(align="left", baseline="alphabetic", font="DejaVu Serif",
                                         fontSize=84, color="#ff0000").encode(x=X("t"), y=Y("d"), text="txt:N"))

chart = alt.layer(*layers).properties(
    width=W, height=H, autosize=alt.AutoSizeParams(type="none"), padding=0, background="white"
).configure_view(stroke=None)

chart.save("out.html", embed_options={"renderer": "svg", "actions": False})
